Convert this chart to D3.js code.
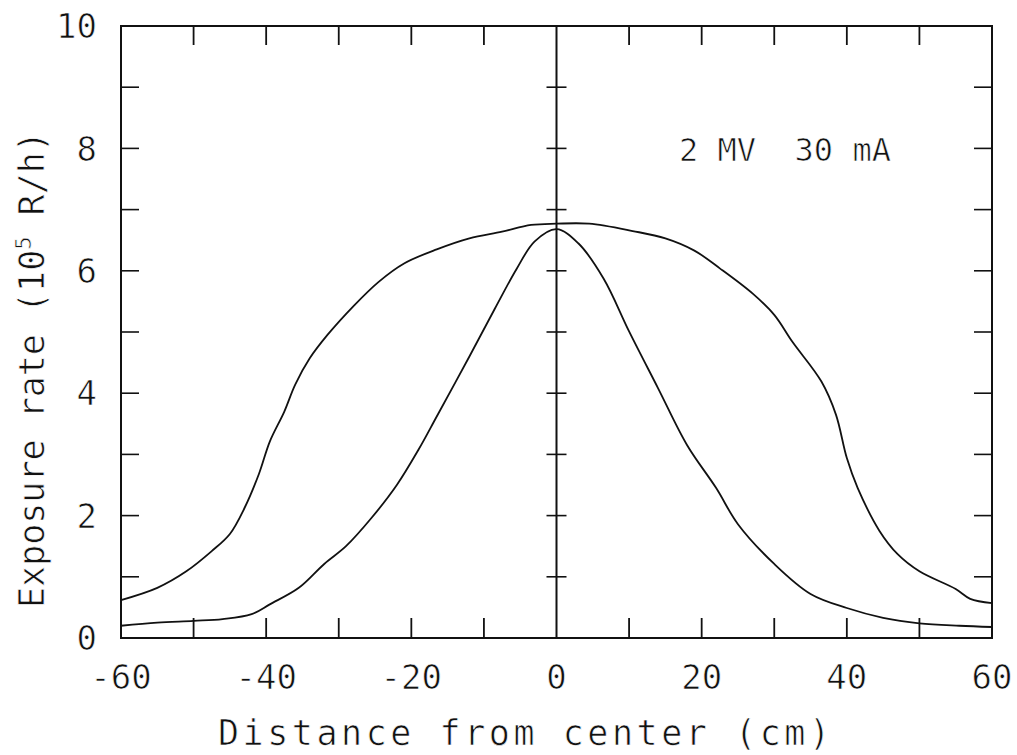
<!DOCTYPE html>
<meta charset="utf-8">
<style>
    body {margin: 0; background: #fff;}
    svg text {font-family: 'DejaVu Sans Mono', monospace; fill: #111; stroke: #fff; stroke-width: 0.7px;}
</style>
<body>
<svg width="1017" height="755"></svg>
<script src="https://d3js.org/d3.v7.min.js"></script>
<script>

// wide beam profile (outer curve)
var outerX = [-60, -55, -51, -47.5, -45, -43, -41, -39.5, -37.5, -36, -34, -31.5, -28, -24.5, -21,
              -16.5, -12, -7.5, -3.5, 0, 4.5, 10.5, 15, 19, 22.5, 27, 30, 32.5, 36.5, 38.5, 40,
              41.5, 44.5, 47, 50, 55, 57, 60];
var outerY = [0.62, 0.82, 1.09, 1.42, 1.70, 2.12, 2.68, 3.21, 3.70, 4.14, 4.57, 4.96, 5.42, 5.82, 6.12,
              6.35, 6.53, 6.64, 6.75, 6.77, 6.77, 6.65, 6.53, 6.33, 6.04, 5.63, 5.28, 4.84, 4.19, 3.65, 2.94,
              2.45, 1.75, 1.37, 1.09, 0.80, 0.64, 0.57];

// narrow beam profile (inner curve)
var innerX = [-60, -55, -50, -46, -42, -39.5, -35.5, -32, -29, -25.5, -22, -19, -16.5, -12, -8.5,
              -5.5, -3, 0, 3, 6.5, 10, 14, 18, 22, 25, 30, 35, 40, 45, 50, 55.5, 60];
var innerY = [0.20, 0.25, 0.28, 0.31, 0.39, 0.55, 0.82, 1.21, 1.50, 1.96, 2.50, 3.08, 3.62, 4.60, 5.38,
              6.03, 6.48, 6.68, 6.45, 5.87, 5.01, 4.08, 3.15, 2.45, 1.86, 1.21, 0.72, 0.49, 0.33, 0.24, 0.20, 0.18];

var xTicks = [-60, -40, -20, 0, 20, 40, 60];
var xMinor = [-50, -40, -30, -20, -10, 10, 20, 30, 40, 50];
var yTicks = [0, 2, 4, 6, 8, 10];
var yMinor = [1, 2, 3, 4, 5, 6, 7, 8, 9];

var svg = d3.select("svg");

var x = d3.scaleLinear().domain([-60, 60]).range([121, 992]);
var y = d3.scaleLinear().domain([0, 10]).range([638, 26]);

var g = svg.append("g").style("stroke", "#111").style("fill", "none");

// frame
g.append("rect")
    .attr("x", x(-60)).attr("y", y(10))
    .attr("width", x(60) - x(-60)).attr("height", y(0) - y(10))
    .style("stroke-width", 2);

// center line
g.append("line")
    .attr("x1", x(0)).attr("x2", x(0))
    .attr("y1", y(0)).attr("y2", y(10))
    .style("stroke-width", 2);

// ticks on left, right and center
g.selectAll(".tl").data(yMinor).enter().append("line")
    .attr("x1", x(-60)).attr("x2", x(-60) + 18)
    .attr("y1", function(d) { return y(d); }).attr("y2", function(d) { return y(d); })
    .style("stroke-width", 1.6);
g.selectAll(".tr").data(yMinor).enter().append("line")
    .attr("x1", x(60)).attr("x2", x(60) - 18)
    .attr("y1", function(d) { return y(d); }).attr("y2", function(d) { return y(d); })
    .style("stroke-width", 1.6);
g.selectAll(".tc").data(yMinor).enter().append("line")
    .attr("x1", x(0) - 10).attr("x2", x(0) + 10)
    .attr("y1", function(d) { return y(d); }).attr("y2", function(d) { return y(d); })
    .style("stroke-width", 1.6);

// ticks on top and bottom
g.selectAll(".tt").data(xMinor).enter().append("line")
    .attr("x1", function(d) { return x(d); }).attr("x2", function(d) { return x(d); })
    .attr("y1", y(10)).attr("y2", y(10) + 19)
    .style("stroke-width", 1.8);
g.selectAll(".tb").data(xMinor).enter().append("line")
    .attr("x1", function(d) { return x(d); }).attr("x2", function(d) { return x(d); })
    .attr("y1", y(0)).attr("y2", y(0) - 20)
    .style("stroke-width", 1.8);

// curves
var line = d3.line()
    .x(function(d) { return x(d[0]); })
    .y(function(d) { return y(d[1]); })
    .curve(d3.curveCatmullRom.alpha(0.5));

g.append("path").datum(d3.zip(outerX, outerY)).attr("d", line).style("stroke-width", 1.8);
g.append("path").datum(d3.zip(innerX, innerY)).attr("d", line).style("stroke-width", 1.8);

// tick labels
svg.append("g").selectAll("text").data(yTicks).enter().append("text")
    .attr("x", x(-60) - 24).attr("y", function(d) { return y(d); })
    .attr("text-anchor", "end").attr("dy", "0.36em")
    .style("font-size", "34px")
    .text(function(d) { return d; });

svg.append("g").selectAll("text").data(xTicks).enter().append("text")
    .attr("x", function(d) { return x(d); }).attr("y", 677)
    .attr("text-anchor", "middle").attr("dy", "0.36em")
    .style("font-size", "34px")
    .text(function(d) { return d < 0 ? "-" + Math.abs(d) : d; });

// axis titles
svg.append("text")
    .attr("x", 218).attr("y", 745)
    .attr("textLength", 612).attr("lengthAdjust", "spacing")
    .style("font-size", "35px")
    .text("Distance from center (cm)");

var yt = svg.append("text")
    .attr("transform", "translate(44,608) rotate(-90)")
    .style("font-size", "35px");
yt.append("tspan").text("Exposure rate (10");
yt.append("tspan").attr("dy", -13).style("font-size", "22px").text("5");
yt.append("tspan").attr("dy", 13).text(" R/h)");

// annotation
svg.append("text")
    .attr("x", 679).attr("y", 161)
    .style("font-size", "32px")
    .style("white-space", "pre")
    .text("2 MV  30 mA");

</script>
</body>
